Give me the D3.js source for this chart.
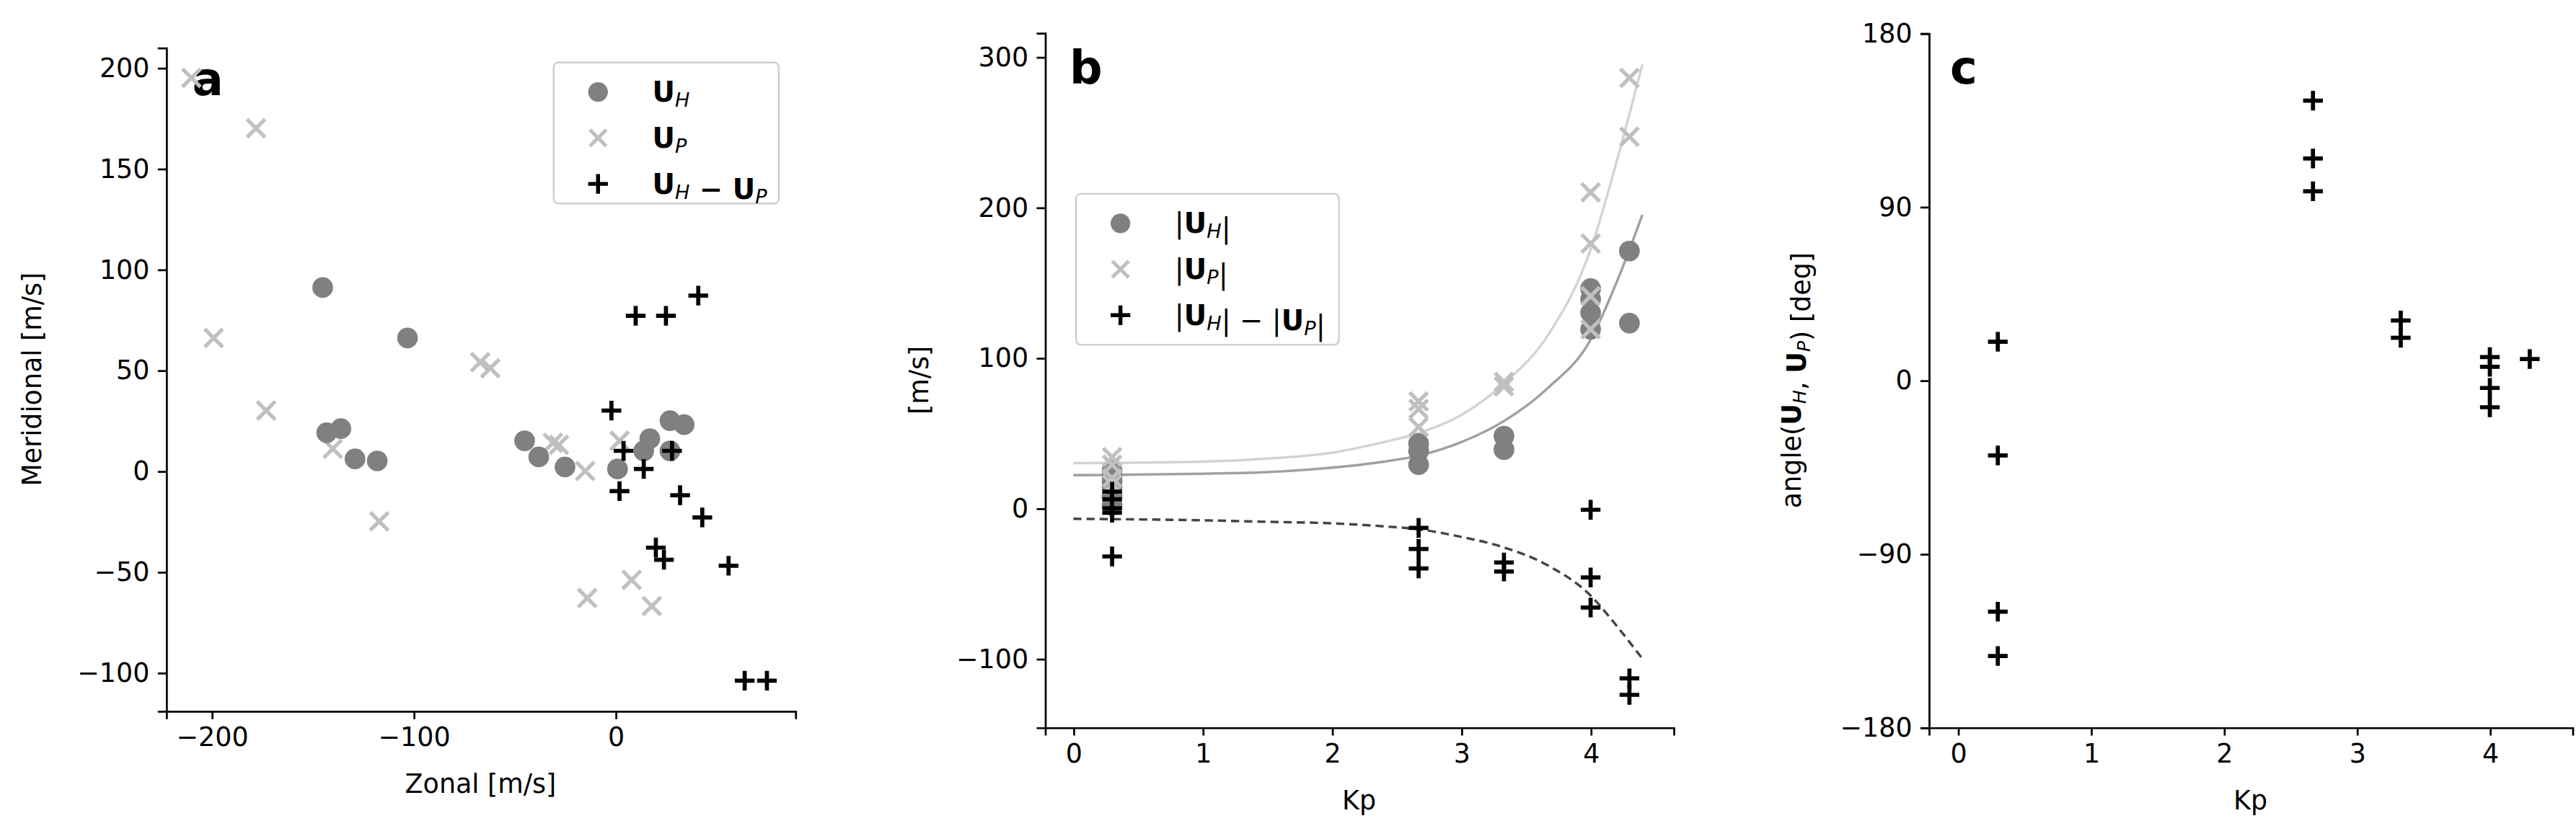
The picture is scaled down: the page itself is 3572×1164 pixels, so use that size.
<!DOCTYPE html>
<html><head><meta charset="utf-8">
<script src="https://cdn.jsdelivr.net/npm/d3@7"></script>
<style>
body{margin:0;background:#fff}
text{font-family:"DejaVu Sans",sans-serif}
.tick text{font-size:16px;fill:#000}
.tick line,.domain{stroke:#000}
</style></head><body>
<svg id="canvas" width="3572" height="1164" viewBox="0 0 1568 511"></svg>
<script>
// panel a data: [zonal, meridional]
const aUH = [[-145,91],[-103,66],[-143,19],[-136,21],[-129,6],[-118,5],[-45,15],[-38,7],[-25,2],[1,1],[14,10],[17,16],[27,10],[27,25],[34,23]];
const aUP = [[-210,195],[-178,170],[-199,66],[-173,30],[-140,11],[-117,-25],[-67,54],[-62,51],[-31,14],[-28,13],[-15,0],[2,15],[-14,-63],[8,-54],[18,-67]];
const aDiff = [[-2,30],[4,10],[10,77],[25,77],[41,87],[14,1],[28,10],[2,-10],[32,-12],[43,-23],[20,-38],[24,-44],[56,-47],[64,-104],[75,-104]];
// panel b data: [Kp, m/s]
const bUH = [[0.3,2],[0.3,8],[0.3,14],[0.3,18],[0.3,22],[0.3,25],[2.67,43],[2.67,38],[2.67,29],[3.33,48],[3.33,39],[4,146],[4,139],[4,130],[4,119],[4.3,171],[4.3,123]];
const bUP = [[0.3,34],[0.3,29],[0.3,20],[0.3,16],[2.67,71],[2.67,66],[2.67,54],[3.33,84],[3.33,81],[4,210],[4,176],[4,141],[4,119],[4.3,286],[4.3,247]];
const bDiff = [[0.3,11],[0.3,6],[0.3,0],[0.3,-3],[0.3,-32],[2.67,-13],[2.67,-27],[2.67,-40],[3.33,-36],[3.33,-42],[4,-1],[4,-46],[4,-66],[4.3,-113],[4.3,-124]];
const fitUP = [[0,30],[1,31],[1.5,33],[2,37],[2.4,44],[2.67,50],[3,62],[3.33,83],[3.67,115],[4,172],[4.2,230],[4.4,295]];
const fitUH = [[0,22],[1,23],[1.5,24],[2,27],[2.4,31],[2.67,35],[3,44],[3.33,58],[3.67,80],[4,112],[4.2,150],[4.4,195]];
const fitDiff = [[0,-7],[1,-8],[1.5,-9],[2,-10],[2.4,-12],[2.67,-14],[3,-19],[3.33,-26],[3.67,-38],[4,-58],[4.2,-78],[4.4,-100]];
// panel c data: [Kp, deg]
const cAngle = [[0.3,20],[0.3,-39],[0.3,-120],[0.3,-143],[2.67,145],[2.67,115],[2.67,98],[3.33,31],[3.33,22],[4,12],[4,7],[4,-4],[4,-14],[4.3,11]];
const kpTicks = [0,1,2,3,4];

const cUH = "#808080", cUP = "#c0c0c0", cD = "#000";
const svg = d3.select("#canvas");

function panel(o) {
  const g = svg.append("g");
  const x = d3.scaleLinear().domain(o.xd).range([o.x0, o.x1]);
  const y = d3.scaleLinear().domain(o.yd).range([o.y1, o.y0]);
  g.append("g").attr("transform", `translate(0,${o.y1})`)
    .call(d3.axisBottom(x).tickValues(o.xt).tickSizeOuter(0).tickSize(5).tickPadding(5).tickFormat(d3.format("")))
    .selectAll(".tick text").text(d => String(d).replace("-", "\u2212"));
  g.append("g").attr("transform", `translate(${o.x0},0)`)
    .call(d3.axisLeft(y).tickValues(o.yt).tickSizeOuter(0).tickSize(5).tickPadding(5).tickFormat(d3.format("")))
    .selectAll(".tick text").text(d => String(d).replace("-", "\u2212"));
  g.selectAll(".domain,.tick line").attr("stroke-width", 1.2);
  g.append("text").attr("x", (o.x0 + o.x1) / 2).attr("y", o.y1 + 50).attr("text-anchor", "middle")
    .attr("font-size", 16).text(o.xl);
  const yl = g.append("text").attr("transform", `translate(${o.ylx},${(o.y0 + o.y1) / 2}) rotate(-90)`)
    .attr("text-anchor", "middle").attr("font-size", 16);
  o.yl(yl);
  g.append("text").attr("x", o.lx).attr("y", o.ly).attr("font-size", 28).attr("font-weight", "bold").text(o.letter);
  return { g, x, y };
}

function dots(p, data, col) {
  p.g.append("g").selectAll("circle").data(data).join("circle")
    .attr("cx", d => p.x(d[0])).attr("cy", d => p.y(d[1])).attr("r", 6.3).attr("fill", col);
}
function crosses(p, data, col) {
  p.g.append("g").selectAll("path").data(data).join("path")
    .attr("d", d => { const X = p.x(d[0]), Y = p.y(d[1]), s = 5.5; return `M${X-s},${Y-s}L${X+s},${Y+s}M${X-s},${Y+s}L${X+s},${Y-s}`; })
    .attr("stroke", col).attr("stroke-width", 2.3);
}
function pluses(p, data, col) {
  p.g.append("g").selectAll("path").data(data).join("path")
    .attr("d", d => { const X = p.x(d[0]), Y = p.y(d[1]), s = 6; return `M${X-s},${Y}L${X+s},${Y}M${X},${Y-s}L${X},${Y+s}`; })
    .attr("stroke", col).attr("stroke-width", 2.5);
}
function vec(t, sub) {
  t.append("tspan").attr("font-weight", "bold").text("U");
  t.append("tspan").attr("font-style", "italic").attr("font-size", "0.7em").attr("dy", 3).text(sub);
  t.append("tspan").attr("dy", -3).text("");
}
function legend(p, x0, y0, w, h, rows) {
  const lg = p.g.append("g");
  lg.append("rect").attr("x", x0).attr("y", y0).attr("width", w).attr("height", h).attr("rx", 3)
    .attr("fill", "#fff").attr("stroke", "#ccc").attr("stroke-width", 1);
  rows.forEach((r, i) => {
    const cy = y0 + 18 + i * 28, cx = x0 + 27;
    if (r.m === "o") lg.append("circle").attr("cx", cx).attr("cy", cy).attr("r", 6).attr("fill", cUH);
    else if (r.m === "x") lg.append("path").attr("d", `M${cx-5},${cy-5}L${cx+5},${cy+5}M${cx-5},${cy+5}L${cx+5},${cy-5}`).attr("stroke", cUP).attr("stroke-width", 2.2);
    else lg.append("path").attr("d", `M${cx-6},${cy}L${cx+6},${cy}M${cx},${cy-6}L${cx},${cy+6}`).attr("stroke", cD).attr("stroke-width", 2.4);
    const t = lg.append("text").attr("x", x0 + 60).attr("y", cy + 6).attr("font-size", 17);
    r.t(t);
  });
}

// panel a
const pa = panel({ x0: 101, x1: 484, y0: 29, y1: 433, xd: [-222.6, 89], yd: [-119, 210],
  xt: [-200, -100, 0], yt: [-100, -50, 0, 50, 100, 150, 200], xl: "Zonal [m/s]", ylx: 25,
  yl: t => t.text("Meridional [m/s]"), letter: "a", lx: 117, ly: 58 });
crosses(pa, aUP, cUP); dots(pa, aUH, cUH); pluses(pa, aDiff, cD);
legend(pa, 337, 38, 137, 86, [
  { m: "o", t: t => vec(t, "H") },
  { m: "x", t: t => vec(t, "P") },
  { m: "+", t: t => { vec(t, "H"); t.append("tspan").attr("font-weight", "bold").text(" \u2212 "); vec(t, "P"); } }
]);

// panel b
const pb = panel({ x0: 636, x1: 1018.6, y0: 20, y1: 443, xd: [-0.22, 4.64], yd: [-145.6, 316],
  xt: kpTicks, yt: [-100, 0, 100, 200, 300], xl: "Kp", ylx: 565,
  yl: t => t.text("[m/s]"), letter: "b", lx: 651, ly: 51 });
const line = d3.line().x(d => pb.x(d[0])).y(d => pb.y(d[1])).curve(d3.curveMonotoneX);
pb.g.append("path").datum(fitUP).attr("d", line).attr("fill", "none").attr("stroke", "#d3d3d3").attr("stroke-width", 1.5);
pb.g.append("path").datum(fitUH).attr("d", line).attr("fill", "none").attr("stroke", "#a0a0a0").attr("stroke-width", 1.5);
pb.g.append("path").datum(fitDiff).attr("d", line).attr("fill", "none").attr("stroke", "#444").attr("stroke-width", 1.5).attr("stroke-dasharray", "5,3");
dots(pb, bUH, cUH); crosses(pb, bUP, cUP); pluses(pb, bDiff, cD);
legend(pb, 655, 118, 160, 92, [
  { m: "o", t: t => { t.append("tspan").text("|"); vec(t, "H"); t.append("tspan").text("|"); } },
  { m: "x", t: t => { t.append("tspan").text("|"); vec(t, "P"); t.append("tspan").text("|"); } },
  { m: "+", t: t => { t.append("tspan").text("|"); vec(t, "H"); t.append("tspan").text("| \u2212 |"); vec(t, "P"); t.append("tspan").text("|"); } }
]);

// panel c
const pc = panel({ x0: 1174, x1: 1565.8, y0: 20.2, y1: 443, xd: [-0.22, 4.62], yd: [-180, 180],
  xt: kpTicks, yt: [-180, -90, 0, 90, 180], xl: "Kp", ylx: 1096,
  yl: t => { t.append("tspan").text("angle("); vec(t, "H"); t.append("tspan").text(", "); vec(t, "P"); t.append("tspan").text(") [deg]"); },
  letter: "c", lx: 1187, ly: 51 });
pluses(pc, cAngle, cD);
</script></body></html>
